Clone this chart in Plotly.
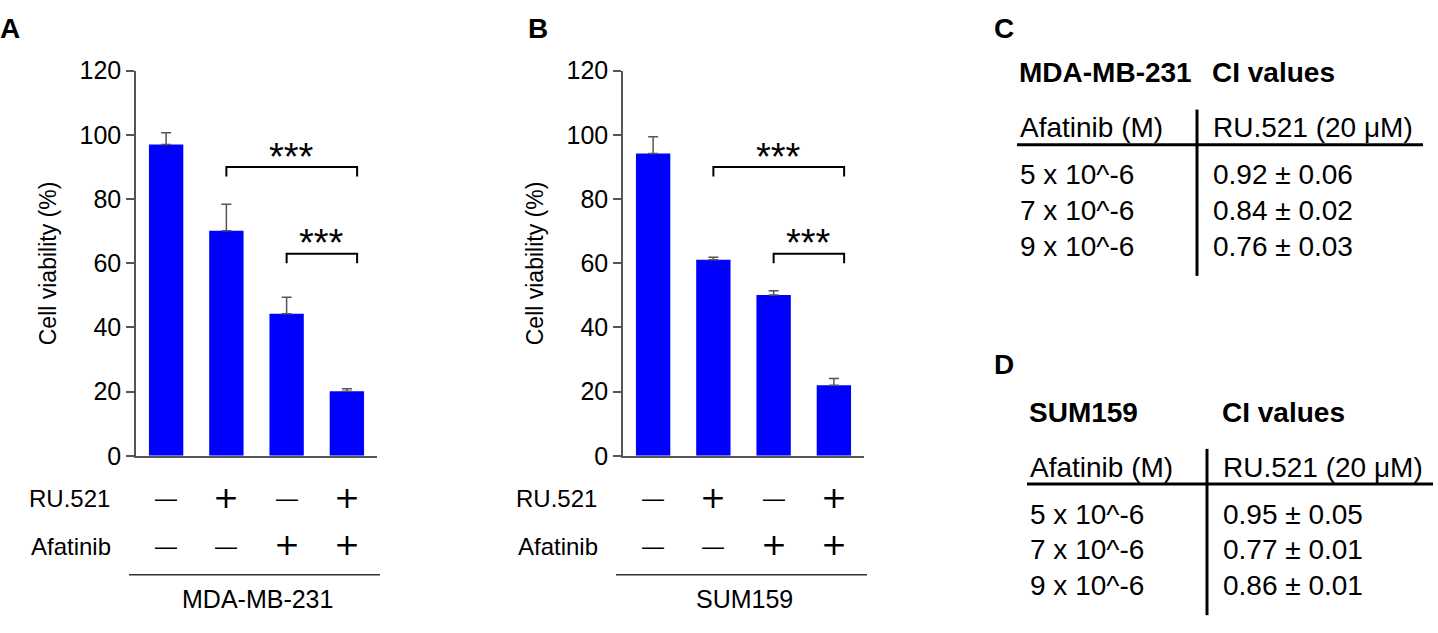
import plotly.graph_objects as go

# ---------------- data ----------------
conditions = [0, 1, 2, 3]
ru521 = [0, 1, 0, 1]
afatinib = [0, 0, 1, 1]

mda_viability = [97.0, 70.1, 44.3, 20.1]
mda_err = [3.7, 8.3, 5.1, 0.8]
sum_viability = [94.2, 61.1, 50.1, 22.0]
sum_err = [5.2, 0.8, 1.3, 2.1]

yticks = [0, 20, 40, 60, 80, 100, 120]

bracket_pairs = [(1, 3), (2, 3)]
bracket_heights = [90, 63]
bracket_labels = ["***", "***"]

conc_labels = ["5 x 10^-6", "7 x 10^-6", "9 x 10^-6"]
ci_mda = [0.92, 0.84, 0.76]
ci_mda_sd = [0.06, 0.02, 0.03]
ci_sum = [0.95, 0.77, 0.86]
ci_sum_sd = [0.05, 0.01, 0.01]

# ---------------- layout helpers ----------------
W, H = 1438, 633
FONT = "Liberation Sans, Arial, sans-serif"


def px(x):
    return x / W


def py(y):
    return 1 - y / H


fig = go.Figure()
annotations = []
shapes = []

BLUE = "#0000FF"
AXIS = "#555555"

panels = [
    dict(xa="x", ya="y", vals=mda_viability, err=mda_err, name="MDA-MB-231",
         x0=136, x1=377, letter="A", letter_x=10),
    dict(xa="x2", ya="y2", vals=sum_viability, err=sum_err, name="SUM159",
         x0=623, x1=864, letter="B", letter_x=538),
]

Y_TOP, Y_BOT = 59.3, 462.3

for i, p in enumerate(panels):
    fig.add_trace(go.Bar(
        x=conditions, y=p["vals"], xaxis=p["xa"], yaxis=p["ya"],
        marker=dict(color=BLUE, line=dict(width=0)), width=0.57,
        error_y=dict(type="data", array=p["err"], arrayminus=[0] * 4,
                     symmetric=False, color=AXIS, thickness=1.5, width=5),
        showlegend=False, hoverinfo="skip",
    ))
    # significance brackets
    for (a, b), h, lab in zip(bracket_pairs, bracket_heights, bracket_labels):
        xr = b + 0.17
        fig.add_trace(go.Scatter(
            x=[a, a, xr, xr], y=[h - 3, h, h, h - 3], mode="lines",
            line=dict(color="black", width=2), xaxis=p["xa"], yaxis=p["ya"],
            showlegend=False, hoverinfo="skip",
        ))
        annotations.append(dict(
            x=(a + xr) / 2, y=h + 6, xref=p["xa"], yref=p["ya"], text=lab,
            showarrow=False, font=dict(family=FONT, size=38, color="black"),
            xanchor="center", yanchor="middle", yshift=-9,
        ))
    # +/- rows
    for flags, yy in ((ru521, 507), (afatinib, 557)):
        for c, f in zip(conditions, flags):
            if f:
                annotations.append(dict(
                    x=c, y=py(yy), xref=p["xa"], yref="paper", text="+",
                    showarrow=False,
                    font=dict(family="DejaVu Sans", size=31, color="black"),
                    xanchor="center", yanchor="middle", yshift=2,
                ))
            else:
                annotations.append(dict(
                    x=c, y=py(yy), xref=p["xa"], yref="paper", text="—",
                    showarrow=False,
                    font=dict(family=FONT, size=22, color="black"),
                    xanchor="center", yanchor="middle",
                ))
    off = p["x0"] - 136
    annotations.append(dict(x=px(112 + off), y=py(507), xref="paper", yref="paper",
                            text="RU.521", showarrow=False, xanchor="right", yanchor="middle",
                            font=dict(family=FONT, size=24, color="black")))
    annotations.append(dict(x=px(113 + off), y=py(557), xref="paper", yref="paper",
                            text="Afatinib", showarrow=False, xanchor="right", yanchor="middle",
                            font=dict(family=FONT, size=24, color="black")))
    shapes.append(dict(type="line", xref="paper", yref="paper",
                       x0=px(129 + off), x1=px(380 + off), y0=py(586.7), y1=py(586.7),
                       line=dict(color="#333333", width=1.5)))
    annotations.append(dict(x=px(257 + off), y=py(611.7), xref="paper", yref="paper",
                            text=p["name"], showarrow=False, xanchor="center", yanchor="middle",
                            font=dict(family=FONT, size=25, color="black")))
    annotations.append(dict(x=px(48 + off), y=py((Y_TOP + Y_BOT) / 2), xref="paper", yref="paper",
                            text="Cell viability (%)", textangle=-90, showarrow=False,
                            xanchor="center", yanchor="middle",
                            font=dict(family=FONT, size=23, color="black")))
    annotations.append(dict(x=px(p["letter_x"]), y=py(15), xref="paper", yref="paper",
                            text="<b>%s</b>" % p["letter"], showarrow=False,
                            xanchor="center", yanchor="middle",
                            font=dict(family=FONT, size=28, color="black")))

axis_common_x = dict(range=[-0.5, 3.5], showline=True, linecolor=AXIS, linewidth=1.5,
                     showticklabels=False, ticks="", showgrid=False, zeroline=False,
                     fixedrange=True)
axis_common_y = dict(range=[0, 120], tickvals=yticks, showline=True, linecolor=AXIS,
                     linewidth=1.5, ticks="outside", ticklen=8, tickcolor=AXIS, tickwidth=1.5,
                     showgrid=False, zeroline=False,
                     tickfont=dict(family=FONT, size=25, color="black"), fixedrange=True)

ydom = [py(Y_BOT), py(Y_TOP)]
fig.update_layout(
    xaxis=dict(domain=[px(136), px(377)], anchor="y", **axis_common_x),
    yaxis=dict(domain=ydom, anchor="x", **axis_common_y),
    xaxis2=dict(domain=[px(623), px(864)], anchor="y2", **axis_common_x),
    yaxis2=dict(domain=ydom, anchor="x2", **axis_common_y),
)

# ---------------- tables C and D ----------------
tables = [
    dict(letter="C", title="MDA-MB-231", ci=ci_mda, sd=ci_mda_sd, dx=0, dy=0),
    dict(letter="D", title="SUM159", ci=ci_sum, sd=ci_sum_sd, dx=10, dy=355),
]
TF = dict(family=FONT, size=28, color="black")
for t in tables:
    dx, dy = t["dx"], t["dy"]
    annotations.append(dict(x=px(1004), y=py(15 + (352 if t["letter"] == "D" else 0)),
                            xref="paper", yref="paper", text="<b>%s</b>" % t["letter"],
                            showarrow=False, xanchor="center", yanchor="middle",
                            font=dict(family=FONT, size=28, color="black")))
    annotations.append(dict(x=px(1017 + dx), y=py(61.5 + dy), xref="paper", yref="paper",
                            text="<b>%s</b>" % t["title"], showarrow=False,
                            xanchor="left", yanchor="middle", font=TF))
    annotations.append(dict(x=px(1210 + dx), y=py(61.5 + dy), xref="paper", yref="paper",
                            text="<b>CI values</b>", showarrow=False,
                            xanchor="left", yanchor="middle", font=TF))
    annotations.append(dict(x=px(1018 + dx), y=py(119 + dy), xref="paper", yref="paper",
                            text="Afatinib (M)", showarrow=False,
                            xanchor="left", yanchor="middle", font=TF))
    annotations.append(dict(x=px(1211 + dx), y=py(119 + dy), xref="paper", yref="paper",
                            text="RU.521 (20 μM)", showarrow=False,
                            xanchor="left", yanchor="middle", font=TF))
    shapes.append(dict(type="line", xref="paper", yref="paper",
                       x0=px(1017 + dx), x1=px(1423 + dx), y0=py(136.7 + dy), y1=py(136.7 + dy),
                       line=dict(color="black", width=3)))
    shapes.append(dict(type="line", xref="paper", yref="paper",
                       x0=px(1197 + dx), x1=px(1197 + dx), y0=py(100 + dy), y1=py(274 + dy),
                       line=dict(color="black", width=3)))
    for k, (lab, v, s) in enumerate(zip(conc_labels, t["ci"], t["sd"])):
        yy = 168.3 + 37.5 * k + dy
        annotations.append(dict(x=px(1018 + dx), y=py(yy), xref="paper", yref="paper",
                                text=lab, showarrow=False, xanchor="left", yanchor="middle",
                                font=TF))
        annotations.append(dict(x=px(1211 + dx), y=py(yy), xref="paper", yref="paper",
                                text="%.2f ± %.2f" % (v, s), showarrow=False,
                                xanchor="left", yanchor="middle", font=TF))

fig.update_layout(
    width=W, height=H, margin=dict(l=0, r=0, t=0, b=0),
    paper_bgcolor="white", plot_bgcolor="white",
    annotations=annotations, shapes=shapes, bargap=0.4,
    font=dict(family=FONT, color="black"),
)

fig.write_html("out.html", config={"displayModeBar": False},
               post_script="document.body.style.margin='0';document.body.style.overflow='hidden';")
